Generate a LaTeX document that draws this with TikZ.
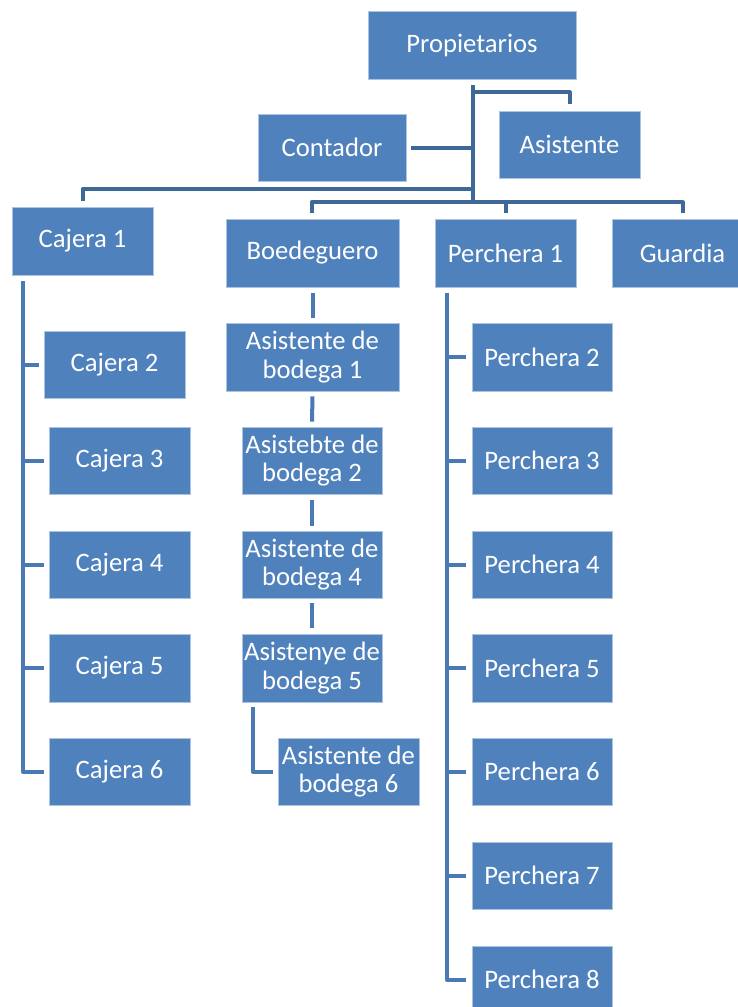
\documentclass[tikz,border=0pt]{standalone}
\usepackage{fontspec}
\setmainfont{Carlito}
\usetikzlibrary{calc}
\definecolor{boxblue}{RGB}{79,129,189}
\definecolor{boxedge}{RGB}{170,196,226}
\definecolor{topline}{RGB}{62,104,152}
\definecolor{colline}{RGB}{74,122,180}
\tikzset{
  x=0.75pt, y=-0.75pt,
  box/.style={fill=boxblue, draw=boxedge, line width=0.6pt, text=white,
    align=center, inner sep=0pt, font=\fontsize{20}{21.5}\selectfont},
  conn/.style={draw=topline, line width=3pt, line join=round},
  branch/.style={draw=colline, line width=3pt, line join=round},
}
% place a box by its corner coordinates (left, top, right, bottom)
\newcommand\orgbox[6]{%
  \node[box, minimum width={(#4-#2)*0.75pt}, minimum height={(#5-#3)*0.75pt}]
    (#1) at ({(#2+#4)/2},{(#3+#5)/2}) {#6};}
\begin{document}
\begin{tikzpicture}
\clip (0,0) rectangle (738,1007);
\fill[white] (0,0) rectangle (738,1007);

% top level
\orgbox{prop}{368}{11}{576}{79}{Propietarios}
\orgbox{cont}{258}{114}{406}{181}{Contador}
\orgbox{asis}{499}{111}{640}{178}{Asistente}

% second level
\orgbox{caj1}{12}{207}{153}{275}{Cajera 1}
\orgbox{boed}{226}{219}{399}{287}{Boedeguero}
\orgbox{perc1}{435}{219}{576}{287}{Perchera 1}
\orgbox{guard}{612}{219}{753}{287}{Guardia}

% cashiers
\orgbox{caj2}{44}{331}{185}{398}{Cajera 2}
\orgbox{caj3}{49}{427}{190}{494}{Cajera 3}
\orgbox{caj4}{49}{531}{190}{598}{Cajera 4}
\orgbox{caj5}{49}{634}{190}{702}{Cajera 5}
\orgbox{caj6}{49}{738}{190}{805}{Cajera 6}

% warehouse
\orgbox{ab1}{226}{323}{399}{391}{Asistente de\\bodega 1}
\orgbox{ab2}{242}{427}{382}{494}{Asistebte de\\bodega 2}
\orgbox{ab4}{242}{531}{382}{598}{Asistente de\\bodega 4}
\orgbox{ab5}{242}{634}{382}{702}{Asistenye de\\bodega 5}
\orgbox{ab6}{278}{738}{419}{805}{Asistente de\\bodega 6}

% shelvers
\orgbox{p2}{472}{323}{612}{391}{Perchera 2}
\orgbox{p3}{472}{427}{612}{494}{Perchera 3}
\orgbox{p4}{472}{531}{612}{598}{Perchera 4}
\orgbox{p5}{472}{634}{612}{702}{Perchera 5}
\orgbox{p6}{472}{738}{612}{805}{Perchera 6}
\orgbox{p7}{472}{842}{612}{909}{Perchera 7}
\orgbox{p8}{472}{946}{612}{1013}{Perchera 8}

% connectors from the owners
\coordinate (trunkTop) at ($(prop.south)+(1,6)$);
\coordinate (barL) at ($(prop.south)+(1,110)$);
\coordinate (barR) at ($(prop.south)+(1,123)$);
\draw[conn] (trunkTop) -- (barR);
\draw[conn] ($(prop.south)+(1,13)$) -| ($(asis.north)+(0,-7)$);
\draw[conn] ($(cont.east)+(5,0)$) -- (cont.east -| trunkTop);
\draw[conn] (barL) -| ($(caj1.north)+(0,-6)$);
\draw[conn] ($(boed.north)+(-1,-6)$) |- (barR) -| ($(guard.north)+(0,-6)$);
\draw[conn] ($(perc1.north)+(0,-6)$) -- ($(perc1.north)+(0,-17)$);

% cashier column
\coordinate (colC) at ($(caj1.south west)+(11,6)$);
\draw[branch] (colC) |- ($(caj6.west)+(-5,0)$);
\foreach \n in {caj2,caj3,caj4,caj5}
  \draw[branch] (colC |- \n.west) -- ($(\n.west)+(-5,0)$);

% warehouse chain
\draw[branch] ($(boed.south)+(0,6)$) -- ($(ab1.north)+(0,-5)$);
\draw[branch] ($(ab1.south)+(0,5)$) -- ($(ab2.north)+(0,-5)$);
\draw[branch] ($(ab2.south)+(0,6)$) -- ($(ab4.north)+(0,-5)$);
\draw[branch] ($(ab4.south)+(0,5)$) -- ($(ab5.north)+(0,-6)$);
\draw[branch] ($(ab5.south west)+(11,5)$) |- ($(ab6.west)+(-5,0)$);

% shelver column
\coordinate (colP) at ($(perc1.south west)+(12,6)$);
\draw[branch] (colP) |- ($(p8.west)+(-6,0)$);
\foreach \n in {p2,p3,p4,p5,p6,p7}
  \draw[branch] (colP |- \n.west) -- ($(\n.west)+(-6,0)$);
\end{tikzpicture}
\end{document}
